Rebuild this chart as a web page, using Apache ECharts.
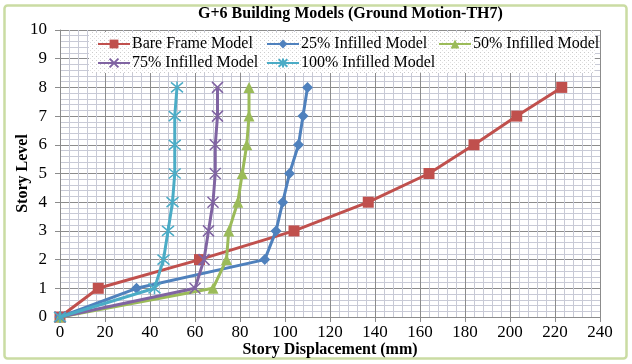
<!DOCTYPE html>
<html>
<head>
<meta charset="utf-8">
<script src="https://cdn.jsdelivr.net/npm/echarts@6/dist/echarts.min.js"></script>
<style>
html,body{margin:0;padding:0;background:#fff;}
#c{width:632px;height:364px;}
</style>
</head>
<body>
<div id="c"></div>
<script>
var stories = [0, 1, 2, 3, 4, 5, 6, 7, 8];
var bareFrame = [0, 17, 62, 104, 137, 164, 184, 203, 223];
var infilled25 = [0, 34, 91, 96, 99, 102, 106, 108, 110];
var infilled50 = [0, 68, 74, 75, 79, 81, 83, 84, 84];
var infilled75 = [0, 60, 64, 66, 68, 69, 69, 70, 70];
var infilled100 = [0, 42, 46, 48, 50, 51, 51, 51, 52];
var seriesNames = ['Bare Frame Model', '25% Infilled Model', '50% Infilled Model', '75% Infilled Model', '100% Infilled Model'];
var xTicks = [0, 20, 40, 60, 80, 100, 120, 140, 160, 180, 200, 220, 240];
var yTicks = [0, 1, 2, 3, 4, 5, 6, 7, 8, 9, 10];

var colors = ['#c0504d', '#4f81bd', '#9bbb59', '#8064a2', '#4bacc6'];
var FONT = 'Liberation Serif';

function pairs(xs) { return xs.map(function (v, i) { return [v, stories[i]]; }); }

// dotted pattern for legend box
var pc = document.createElement('canvas');
pc.width = 4; pc.height = 4;
var pctx = pc.getContext('2d');
pctx.fillStyle = '#ffffff'; pctx.fillRect(0, 0, 4, 4);
pctx.fillStyle = '#cccccc'; pctx.fillRect(0, 0, 1, 1);
pctx.fillStyle = '#e2e2e2'; pctx.fillRect(2, 2, 1, 1);

var chart = echarts.init(document.getElementById('c'), null, {renderer: 'canvas'});

var symbols = [
  {symbol: 'rect', size: 11},
  {symbol: 'diamond', size: 11},
  {symbol: 'triangle', size: 11},
  {symbol: 'path://M0,0L10,10M10,0L0,10', size: 11},
  {symbol: 'path://M0,0L10,10M10,0L0,10M5,-1L5,11', size: 12}
];
var dataSets = [bareFrame, infilled25, infilled50, infilled75, infilled100];

var series = dataSets.map(function (d, i) {
  var stroked = i >= 3;
  return {
    name: seriesNames[i],
    type: 'line',
    data: pairs(d),
    symbol: symbols[i].symbol,
    symbolSize: symbols[i].size,
    showAllSymbol: true,
    lineStyle: {color: colors[i], width: 3},
    itemStyle: stroked ? {color: colors[i], borderColor: colors[i], borderWidth: 1.5} : {color: colors[i], borderWidth: 0},
    emphasis: {disabled: true},
    animation: false,
    z: 2 + i
  };
});

var legendPos = [
  {left: 97, top: 36},
  {left: 266, top: 36},
  {left: 438, top: 36},
  {left: 97, top: 55},
  {left: 266, top: 55}
];
var legends = seriesNames.map(function (n, i) {
  return {
    data: [n],
    left: legendPos[i].left,
    top: legendPos[i].top,
    itemWidth: 32,
    itemHeight: 11,
    itemGap: 0,
    padding: 0,
    selectedMode: false,
    textStyle: {fontFamily: FONT, fontSize: 16, color: '#000', padding: [0, 0, 0, -3]},
    z: 6
  };
});

var option = {
  backgroundColor: '#ffffff',
  animation: false,
  title: {
    text: 'G+6 Building Models (Ground Motion-TH7)',
    left: 198,
    top: 6,
    padding: 0,
    textStyle: {fontFamily: FONT, fontSize: 16, fontWeight: 'bold', color: '#000'}
  },
  legend: legends,
  grid: {left: 60, right: 32, top: 30, bottom: 47, containLabel: false, outerBoundsMode: 'none'},
  xAxis: {
    type: 'value',
    min: 0, max: 240, interval: 20,
    name: 'Story Displacement (mm)',
    nameLocation: 'middle',
    nameGap: 25,
    nameMoveOverlap: false,
    nameTextStyle: {fontFamily: FONT, fontSize: 16, fontWeight: 'bold', color: '#000'},
    axisLine: {show: true, lineStyle: {color: '#8c8c8c', width: 1}},
    axisTick: {show: true, length: 5, inside: false, lineStyle: {color: '#8c8c8c'}},
    axisLabel: {fontFamily: FONT, fontSize: 17, color: '#000', margin: 7,
      formatter: function (v) { return xTicks.indexOf(v) >= 0 ? String(v) : ''; }},
    splitLine: {show: true, lineStyle: {color: '#8c8c8c', width: 1}},
    minorTick: {show: false, splitNumber: 5},
    minorSplitLine: {show: true, lineStyle: {color: '#c8cad6', width: 1}}
  },
  yAxis: {
    type: 'value',
    min: 0, max: 10, interval: 1,
    name: 'Story Level',
    nameLocation: 'middle',
    nameRotate: 90,
    nameGap: 29,
    nameMoveOverlap: false,
    nameTextStyle: {fontFamily: FONT, fontSize: 16, fontWeight: 'bold', color: '#000'},
    axisLine: {show: true, lineStyle: {color: '#8c8c8c', width: 1}},
    axisTick: {show: true, length: 5, inside: false, lineStyle: {color: '#8c8c8c'}},
    axisLabel: {fontFamily: FONT, fontSize: 17, color: '#000', margin: 13,
      formatter: function (v) { return yTicks.indexOf(v) >= 0 ? String(v) : ''; }},
    splitLine: {show: true, lineStyle: {color: '#8c8c8c', width: 1}},
    minorTick: {show: false, splitNumber: 5},
    minorSplitLine: {show: true, lineStyle: {color: '#c8cad6', width: 1}}
  },
  graphic: [
    {
      type: 'rect', z: -10, silent: true,
      shape: {x: 4.5, y: 5.5, width: 622, height: 353, r: 3},
      style: {fill: 'none', stroke: '#cadca3', lineWidth: 2.5}
    },
    {
      type: 'rect', z: 5, silent: true,
      shape: {x: 89, y: 32, width: 506, height: 41},
      style: {fill: {image: pc, repeat: 'repeat'}, stroke: 'none'}
    }
  ],
  series: series
};
chart.setOption(option);
</script>
</body>
</html>
